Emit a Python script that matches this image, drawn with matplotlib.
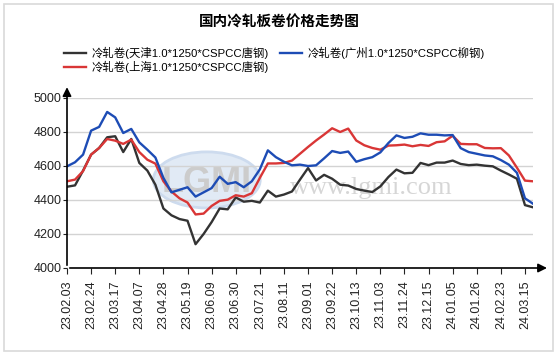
import numpy as np
import matplotlib
matplotlib.use("Agg")
import matplotlib.pyplot as plt
from matplotlib.patches import Ellipse, Rectangle

plt.rcParams['font.family'] = ['Liberation Sans', 'Noto Sans CJK SC', 'DejaVu Sans']

# weekly prices, 23.02.03 .. 24.03.22 (week of 24.02.16 missing)
tianjin = [4478, 4486, 4573, 4667, 4706, 4769, 4775, 4682, 4759, 4618,
           4573, 4490, 4350, 4310, 4288, 4278, 4140, 4200, 4270, 4350,
           4345, 4415, 4390, 4395, 4385, 4455, 4420, 4432, 4450, 4520,
           4588, 4515, 4548, 4525, 4490, 4485, 4465, 4455, 4447, 4480,
           4535, 4579, 4557, 4560, 4618, 4605, 4620, 4620, 4632, 4612,
           4605, 4608, 4602, 4598, 4573, 4550, 4525, 4370, 4357]
guangzhou = [4598, 4622, 4667, 4808, 4830, 4918, 4886, 4794, 4818, 4739,
             4696, 4650, 4530, 4445, 4460, 4475, 4420, 4445, 4470, 4537,
             4495, 4505, 4475, 4510, 4580, 4692, 4652, 4625, 4604, 4608,
             4600, 4604, 4645, 4688, 4677, 4685, 4625, 4640, 4652, 4680,
             4735, 4780, 4765, 4772, 4792, 4784, 4784, 4780, 4782, 4705,
             4682, 4672, 4662, 4657, 4635, 4608, 4560, 4410, 4378]
shanghai = [4510, 4520, 4570, 4667, 4706, 4759, 4749, 4730, 4755, 4682,
            4637, 4614, 4510, 4450, 4410, 4385, 4315, 4320, 4365, 4395,
            4402, 4428, 4420, 4440, 4530, 4615, 4615, 4618, 4632, 4672,
            4712, 4750, 4785, 4822, 4800, 4820, 4750, 4722, 4706, 4696,
            4720, 4722, 4726, 4716, 4724, 4718, 4740, 4745, 4778, 4730,
            4728, 4728, 4706, 4704, 4705, 4662, 4590, 4514, 4510]
tick_labels = ['23.02.03', '23.02.24', '23.03.17', '23.04.07', '23.04.28',
               '23.05.19', '23.06.09', '23.06.30', '23.07.21', '23.08.11',
               '23.09.01', '23.09.22', '23.10.13', '23.11.03', '23.11.24',
               '23.12.15', '24.01.05', '24.01.26', '24.02.23', '24.03.15']
names = ['冷轧卷(天津1.0*1250*CSPCC唐钢)', '冷轧卷(上海1.0*1250*CSPCC唐钢)',
         '冷轧卷(广州1.0*1250*CSPCC柳钢)']
colors = ['#333333', '#d93636', '#1d4cb5']

W, H = 558, 356
fig = plt.figure(figsize=(W / 100, H / 100), dpi=100)
fig.patches.append(Rectangle((4 / W, 5 / H), 549 / W, 347 / H, transform=fig.transFigure,
                             fill=False, edgecolor='#d9d9d9', lw=1.2))

ax = fig.add_axes([67 / W, 88 / H, 466 / W, 170 / H])
x = np.arange(len(tianjin))

# watermark
ax.add_patch(Ellipse((17.4, 4518), 13.3, 330, facecolor='#e1eaf5', edgecolor='#cddbee',
                     lw=2, zorder=0))
ax.text(17.4, 4505, 'LGMI', ha='center', va='center', fontsize=26, fontweight='bold',
        color='#cccccc', zorder=0.5)
ax.text(37.9, 4470, 'www.lgmi.com', ha='center', va='center', fontsize=19,
        family='Liberation Serif', color='#d6d6d6', zorder=0.5)

handles = []
for series, name, c in zip([tianjin, shanghai, guangzhou], names, colors):
    h, = ax.plot(x, series, color=c, lw=1.7, label=name, zorder=3,
                 solid_joinstyle='round')
    handles.append(h)

ax.set_xlim(0, 58)
ax.set_ylim(4000, 5000)
ax.set_yticks(np.arange(4000, 5001, 200))
ax.set_xticks(np.arange(0, 58, 3))
ax.set_xticklabels(tick_labels, rotation=90)
ax.grid(axis='y', color='#d3d3d3', lw=1)
ax.set_axisbelow(True)
for s in ax.spines.values():
    s.set_visible(False)
ax.tick_params(axis='x', length=4, width=0.8, pad=5, labelsize=9, colors='#222222')
ax.tick_params(axis='y', length=3, width=0.8, pad=1, labelsize=9, colors='#222222')

ax.annotate('', xy=(1.036, 0), xytext=(0, 0), xycoords='axes fraction',
            arrowprops=dict(arrowstyle='-|>', color='black', lw=1.2, mutation_scale=13),
            annotation_clip=False)
ax.annotate('', xy=(0, 1.08), xytext=(0, 0), xycoords='axes fraction',
            arrowprops=dict(arrowstyle='-|>', color='black', lw=1.2, mutation_scale=13),
            annotation_clip=False)

fig.text(279 / W, 1 - 22 / H, '国内冷轧板卷价格走势图', ha='center', va='center',
         fontsize=10.5, fontweight='bold', family=['Noto Sans CJK SC'])

fig.legend(handles, names, loc='upper left', bbox_to_anchor=(64 / W, 1 - 47 / H),
           ncol=2, frameon=False, borderpad=0, borderaxespad=0, fontsize=8.2,
           handlelength=1.9, handletextpad=0.5, columnspacing=1.0, labelspacing=0.15)

fig.savefig('out.png', dpi=100)
